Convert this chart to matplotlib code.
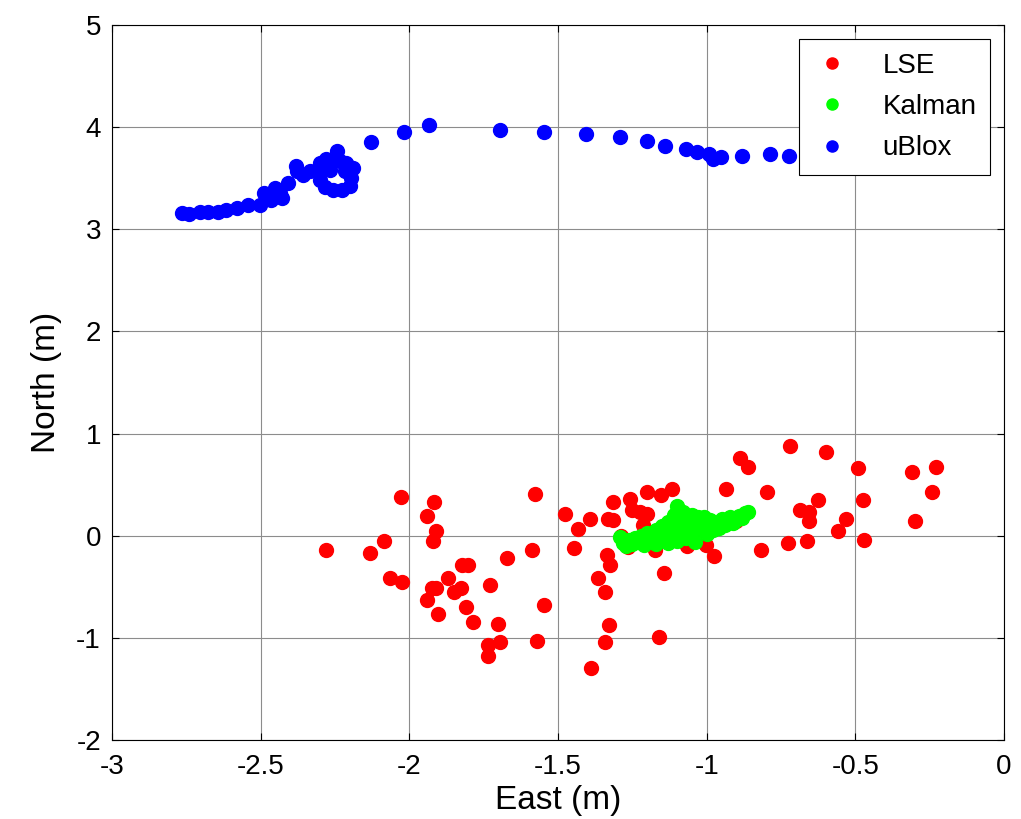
import numpy as np
import matplotlib.pyplot as plt

plt.rcParams['font.family'] = ['Liberation Sans', 'DejaVu Sans']
plt.rcParams['axes.unicode_minus'] = False

# LSE position estimates (East, North) in metres
lse_east = [-2.279, -2.133, -2.086, -2.029, -2.064, -2.024, -1.917, -1.939, -1.911, -1.922,
            -1.925, -1.909, -1.939, -1.905, -1.871, -1.822, -1.803, -1.850, -1.825, -1.809,
            -1.786, -1.729, -1.672, -1.701, -1.696, -1.735, -1.735, -1.576, -1.587, -1.548,
            -1.570, -1.475, -1.434, -1.445, -1.394, -1.333, -1.314, -1.314, -1.258, -1.201,
            -1.155, -1.116, -1.251, -1.226, -1.201, -1.215, -1.288, -1.266, -1.173, -1.336,
            -1.325, -1.365, -1.342, -1.145, -1.330, -1.342, -1.389, -1.161, -1.065, -1.002,
            -0.974, -0.934, -0.889, -0.860, -0.798, -0.816, -0.902, -0.719, -0.599, -0.725,
            -0.662, -0.685, -0.655, -0.655, -0.627, -0.560, -0.531, -0.492, -0.475, -0.470,
            -0.310, -0.230, -0.242, -0.298, -1.110]
lse_north = [-0.137, -0.170, -0.052, 0.379, -0.415, -0.454, 0.330, 0.196, 0.049, -0.052,
             -0.516, -0.516, -0.630, -0.764, -0.418, -0.284, -0.284, -0.550, -0.512, -0.698,
             -0.849, -0.483, -0.219, -0.865, -1.045, -1.074, -1.175, 0.411, -0.137, -0.679,
             -1.028, 0.212, 0.065, -0.118, 0.163, 0.163, 0.150, 0.330, 0.362, 0.428,
             0.395, 0.460, 0.248, 0.228, 0.215, 0.108, 0.000, -0.111, -0.144, -0.186,
             -0.284, -0.415, -0.551, -0.366, -0.878, -1.045, -1.296, -0.996, -0.105, -0.088,
             -0.203, 0.460, 0.757, 0.673, 0.428, -0.137, 0.140, 0.875, 0.823, -0.072,
             -0.055, 0.248, 0.228, 0.147, 0.346, 0.046, 0.163, 0.659, 0.346, -0.039,
             0.627, 0.676, 0.428, 0.147, 0.050]

# Kalman filtered estimates
kal_east = [-1.29, -1.28, -1.27, -1.26, -1.25, -1.24, -1.23, -1.22, -1.21, -1.20,
            -1.19, -1.18, -1.17, -1.17, -1.16, -1.15, -1.15, -1.14, -1.13, -1.13,
            -1.12, -1.11, -1.11, -1.10, -1.10, -1.09, -1.08, -1.08, -1.07, -1.07,
            -1.06, -1.05, -1.05, -1.04, -1.04, -1.03, -1.02, -1.02, -1.01, -1.00,
            -1.00, -0.99, -0.98, -0.97, -0.96, -0.95, -0.94, -0.93, -0.92, -0.91,
            -0.90, -0.89, -0.88, -0.87, -0.86]
kal_north = [-0.01, -0.07, -0.10, -0.04, -0.08, -0.02, -0.06, 0.00, -0.09, 0.03,
             -0.05, 0.02, 0.06, -0.08, 0.00, 0.09, -0.04, 0.04, 0.13, -0.07,
             0.08, 0.02, 0.20, 0.29, -0.05, 0.12, 0.05, 0.23, 0.16, -0.02,
             0.09, 0.20, 0.03, 0.14, -0.06, 0.18, 0.07, 0.12, 0.18, 0.02,
             0.10, 0.15, 0.06, 0.12, 0.08, 0.16, 0.10, 0.13, 0.18, 0.12,
             0.15, 0.19, 0.17, 0.22, 0.23]

# uBlox receiver positions
ubx_east = [-2.766, -2.740, -2.704, -2.676, -2.643, -2.615, -2.579, -2.541, -2.503, -2.488,
            -2.466, -2.452, -2.428, -2.436, -2.408, -2.380, -2.377, -2.357, -2.335,
            -2.301, -2.279, -2.257, -2.234, -2.212, -2.190, -2.195, -2.201, -2.228, -2.257,
            -2.284, -2.299, -2.307, -2.245, -2.217, -2.268, -2.206, -2.290,
            -2.128, -2.018, -1.934, -1.694, -1.547, -1.406, -1.293, -1.201, -1.139, -1.071,
            -1.031, -0.991, -0.980, -0.952, -0.880, -0.788, -0.722]
ubx_north = [3.161, 3.154, 3.167, 3.167, 3.167, 3.193, 3.209, 3.242, 3.242, 3.356,
             3.291, 3.405, 3.307, 3.356, 3.454, 3.617, 3.568, 3.536, 3.568,
             3.650, 3.683, 3.666, 3.666, 3.650, 3.601, 3.503, 3.421, 3.382, 3.382,
             3.415, 3.487, 3.568, 3.764, 3.568, 3.585, 3.617, 3.617,
             3.852, 3.954, 4.019, 3.970, 3.954, 3.937, 3.901, 3.869, 3.820, 3.787,
             3.754, 3.741, 3.690, 3.709, 3.722, 3.738, 3.722]

fig = plt.figure(figsize=(10.21, 8.19), dpi=100)
ax = fig.add_axes([0.1097, 0.0965, 0.8737, 0.873])

ms = 10
ax.plot(lse_east, lse_north, 'o', color='#ff0000', markersize=ms, label='LSE', zorder=3)
ax.plot(kal_east, kal_north, 'o', color='#00ff00', markersize=ms, label='Kalman', zorder=4)
ax.plot(ubx_east, ubx_north, 'o', color='#0000ff', markersize=ms, label='uBlox', zorder=3)

ax.set_xlim(-3, 0)
ax.set_ylim(-2, 5)
ax.set_xticks(np.arange(-3, 0.01, 0.5))
ax.set_xticklabels(['-3', '-2.5', '-2', '-1.5', '-1', '-0.5', '0'])
ax.set_yticks(range(-2, 6))
ax.grid(True, color='#8c8c8c', linewidth=0.8)
ax.set_axisbelow(True)
ax.tick_params(direction='in', top=True, right=True, labelsize=20, length=5, width=0.8)
ax.tick_params(axis='x', pad=10)
ax.tick_params(axis='y', pad=8)
for s in ax.spines.values():
    s.set_linewidth(0.8)

ax.set_xlabel('East (m)', fontsize=24, labelpad=4)
ax.set_ylabel('North (m)', fontsize=24, labelpad=10)

leg = ax.legend(loc='upper right', fontsize=20, numpoints=1, markerscale=0.8,
                fancybox=False, edgecolor='black', framealpha=1,
                borderaxespad=0.5, handlelength=1.4, handletextpad=1.1,
                labelspacing=0.55, borderpad=0.5)
leg.get_frame().set_linewidth(0.8)

fig.savefig('out.png', dpi=100)
